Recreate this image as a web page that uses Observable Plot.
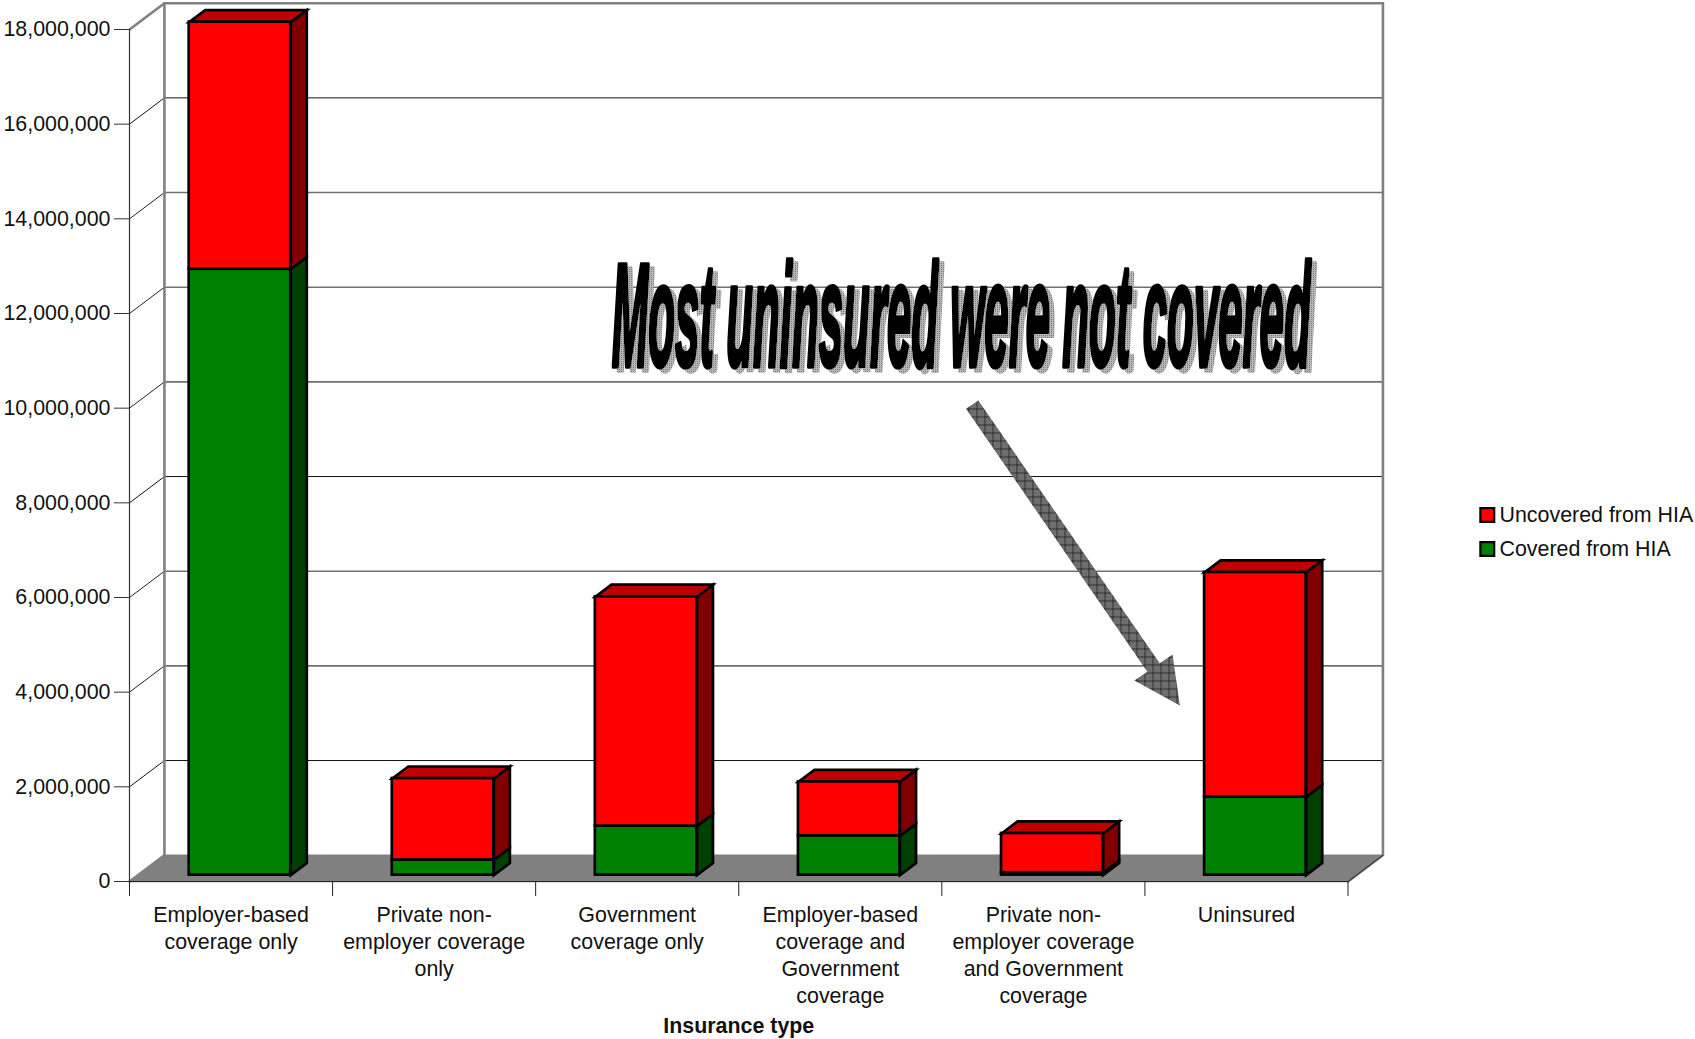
<!DOCTYPE html>
<html>
<head>
<meta charset="utf-8">
<script src="https://cdn.jsdelivr.net/npm/d3@7"></script>
<script src="https://cdn.jsdelivr.net/npm/@observablehq/plot@0.6"></script>
<style>
  html, body { margin: 0; padding: 0; background: #fff; }
  svg { display: block; }
</style>
</head>
<body>
<div id="chart"></div>
<script>
// Insurance type categories, in axis order
const categories = [
  "Employer-based\ncoverage only",
  "Private non-\nemployer coverage\nonly",
  "Government\ncoverage only",
  "Employer-based\ncoverage and\nGovernment\ncoverage",
  "Private non-\nemployer coverage\nand Government\ncoverage",
  "Uninsured"
];
const coveredFromHIA   = [12800000, 320000, 1035000, 830000, 50000, 1650000];
const uncoveredFromHIA = [5220000, 1720000, 4845000, 1140000, 830000, 4745000];
const yTicks = [0, 2e6, 4e6, 6e6, 8e6, 10e6, 12e6, 14e6, 16e6, 18e6];
const seriesNames = ["Uncovered from HIA", "Covered from HIA"];
const seriesColors = ["#ff0000", "#008000"];
const headline = "Most uninsured were not covered";

// The floor and back wall sit behind the front plane by this much, in scale units
const wallX = 0.172, wallY = 0.5556e6;
// Each bar stands part way into the floor
const barStart = 0.294, barWidth = 0.5;
const liftY = 0.135e6, barDepthX = 0.079, barDepthY = 0.255e6;

// Callout arrow outline, in category / value units
const arrowOutline = [
  [4.119, 9.987e6], [4.180, 10.163e6], [5.073, 4.612e6], [5.136, 4.796e6],
  [5.172, 3.719e6], [4.948, 4.247e6], [5.012, 4.430e6]
];

const segments = categories.flatMap((c, i) => {
  const x1 = i + barStart, x2 = x1 + barWidth;
  const total = coveredFromHIA[i] + uncoveredFromHIA[i];
  return [
    {id: i, key: "covered", x1, x2, y1: liftY, y2: liftY + coveredFromHIA[i]},
    {id: i, key: "uncovered", x1, x2, y1: liftY + coveredFromHIA[i], y2: liftY + total}
  ];
});

const sideFace = s => [
  [s.x2, s.y1], [s.x2 + barDepthX, s.y1 + barDepthY],
  [s.x2 + barDepthX, s.y2 + barDepthY], [s.x2, s.y2]
].map(([x, y]) => ({x, y, id: s.id}));

const topFace = s => [
  [s.x1, s.y2], [s.x1 + barDepthX, s.y2 + barDepthY],
  [s.x2 + barDepthX, s.y2 + barDepthY], [s.x2, s.y2]
].map(([x, y]) => ({x, y, id: s.id}));

const byKey = k => segments.filter(s => s.key === k);
const outlineWidth = 2.7;
const polygonStyle = {
  x: "x", y: "y", z: "id", stroke: "#000", strokeWidth: outlineWidth,
  curve: "linear-closed", strokeLinejoin: "miter", strokeMiterlimit: 4
};

const floor = [[0, 0], [6, 0], [6 + wallX, wallY], [wallX, wallY]].map(([x, y]) => ({x, y}));
const thinGrid = [2e6, 8e6, 16e6];
const heavyGrid = [4e6, 6e6, 10e6, 12e6, 14e6];
const wallEdge = "#808080";

// Legend rows: a swatch and its label, pinned by offsets from the frame's corner
const legendRow = (name, i) => [
  Plot.dot([name], {
    frameAnchor: "top-left", dx: 1357.8, dy: 485.5 + i * 34,
    symbol: "square", r: 7.8, fill: seriesColors[i], stroke: "#000", strokeWidth: 2.2
  }),
  Plot.text([name], {
    frameAnchor: "top-left", dx: 1370, dy: 485.5 + i * 34, text: d => d,
    textAnchor: "start", lineAnchor: "middle", fontSize: 21.4, fill: "#111"
  })
];

const chart = Plot.plot({
  width: 1695,
  height: 1039,
  marginLeft: 129,
  marginRight: 347.5,
  marginTop: 29,
  marginBottom: 158,
  x: {domain: [0, 6], range: [129, 1347.5]},
  y: {domain: [0, 18e6], range: [881, 29]},
  style: {fontFamily: "'Liberation Sans', Arial, sans-serif", background: "#fff", color: "#111"},
  marks: [
    // Floor
    Plot.line(floor, {x: "x", y: "y", fill: "#808080", stroke: "#808080", curve: "linear-closed"}),
    // Gridlines on the back wall and their slants up from the axis
    Plot.link(thinGrid, {x1: () => 0, y1: d => d, x2: () => wallX, y2: d => d + wallY, stroke: "#111", strokeWidth: 1}),
    Plot.link(heavyGrid, {x1: () => 0, y1: d => d, x2: () => wallX, y2: d => d + wallY, stroke: "#222", strokeWidth: 1}),
    Plot.ruleY(thinGrid, {y: d => d + wallY, x1: () => wallX, x2: () => 6 + wallX, stroke: "#111", strokeWidth: 1}),
    Plot.ruleY(heavyGrid, {y: d => d + wallY, x1: () => wallX, x2: () => 6 + wallX, stroke: "#707070", strokeWidth: 1.6}),
    // Wall outline
    Plot.line([[0, 0], [wallX, wallY], [wallX, 18e6 + wallY], [6 + wallX, 18e6 + wallY], [6 + wallX, wallY], [6, 0]],
      {x: d => d[0], y: d => d[1], stroke: wallEdge, strokeWidth: 2.6, strokeLinejoin: "miter", strokeMiterlimit: 4}),
    Plot.link([18e6], {x1: () => 0, y1: d => d, x2: () => wallX, y2: d => d + wallY, stroke: wallEdge, strokeWidth: 2.6}),
    Plot.link([0], {x1: () => 6, y1: d => d, x2: () => 6 + wallX, y2: d => d + wallY, stroke: "#222", strokeWidth: 1}),
    // Axes
    Plot.axisY({
      anchor: "left", ticks: yTicks, tickFormat: d3.format(","), tickSize: 15, tickPadding: 4,
      fontSize: 21.4, label: null, stroke: "#333", fill: "#111"
    }),
    Plot.axisX({ticks: d3.range(7), tickSize: 15, fill: "none", label: null, stroke: "#222"}),
    Plot.ruleX([0], {y1: () => 0, y2: () => 18e6, stroke: "#333", strokeWidth: 1.2}),
    Plot.ruleY([0], {x1: () => 0, x2: () => 6, stroke: "#222", strokeWidth: 1.2}),
    // Bars: sides, tops, then front faces
    Plot.line(byKey("covered").flatMap(sideFace), {...polygonStyle, fill: "#004000"}),
    Plot.line(byKey("uncovered").flatMap(sideFace), {...polygonStyle, fill: "#800000"}),
    Plot.line(byKey("uncovered").flatMap(topFace), {...polygonStyle, fill: "#bf0000"}),
    Plot.rect(byKey("covered"), {x1: "x1", x2: "x2", y1: "y1", y2: "y2", fill: "#008000", stroke: "#000", strokeWidth: outlineWidth}),
    Plot.rect(byKey("uncovered"), {x1: "x1", x2: "x2", y1: "y1", y2: "y2", fill: "#ff0000", stroke: "#000", strokeWidth: outlineWidth}),
    // Category labels and axis title
    Plot.text(categories, {
      x: (d, i) => i + 0.5, y: () => 0, text: d => d, dy: 21.4, lineAnchor: "top",
      fontSize: 21.4, lineHeight: 1.26, fill: "#111"
    }),
    Plot.text(["Insurance type"], {
      x: () => 3, y: () => 0, text: d => d, dy: 144.5, fontSize: 21.4, fontWeight: "bold", fill: "#111"
    }),
    // Headline banner; its shadow comes from the filter on the group
    Plot.text([headline], {
      x: () => 2.375, y: () => 10.89e6, text: d => d, textAnchor: "start", lineAnchor: "bottom",
      fontSize: 147, fontWeight: "bold", fontStyle: "italic",
      fill: "#000", stroke: "#000", strokeWidth: 4, className: "wordart"
    }),
    // Callout arrow
    Plot.line(arrowOutline, {x: d => d[0], y: d => d[1], curve: "linear-closed", fill: "url(#arrowDither)", stroke: "none"}),
    // Legend
    ...seriesNames.flatMap(legendRow)
  ]
});

document.getElementById("chart").appendChild(chart);

// Squeeze the headline sideways into its condensed banner width
const bannerWidth = 699;
const banner = chart.querySelector(".wordart text");
const squeeze = bannerWidth / banner.getComputedTextLength();
banner.setAttribute("transform", `${banner.getAttribute("transform") || ""} scale(${squeeze}, 1)`);
banner.setAttribute("vector-effect", "non-scaling-stroke");

// Dither fills for the arrow and the headline shadow
const defs = d3.select(chart).insert("defs", ":first-child");
const hatch = defs.append("pattern").attr("id", "arrowDither")
  .attr("patternUnits", "userSpaceOnUse").attr("width", 8).attr("height", 8);
hatch.append("rect").attr("width", 8).attr("height", 8).attr("fill", "#8c8c8c");
for (const x of d3.range(0, 8)) {
  for (const y of d3.range(0, 8)) {
    if ((x + y) % 2 === 0) hatch.append("rect").attr("x", x).attr("y", y).attr("width", 1).attr("height", 1).attr("fill", "#505050");
  }
}
hatch.append("rect").attr("x", 0).attr("width", 1).attr("height", 8).attr("fill", "#333");
hatch.append("rect").attr("y", 0).attr("width", 8).attr("height", 1).attr("fill", "#333");

const filter = defs.append("filter").attr("id", "bannerShadow")
  .attr("filterUnits", "userSpaceOnUse").attr("primitiveUnits", "userSpaceOnUse")
  .attr("x", 0).attr("y", 0).attr("width", 1695).attr("height", 1039);
const tile = {x: 0, y: 0, width: 3, height: 3};
const flood = (color, size, result) => filter.append("feFlood")
  .attr("flood-color", color).attr("x", 0).attr("y", 0).attr("width", size).attr("height", size).attr("result", result);
flood("#b6b6b6", 3, "tone");
flood("#7c7c7c", 1, "speck");
const cell = filter.append("feMerge").attr("x", tile.x).attr("y", tile.y).attr("width", tile.width).attr("height", tile.height).attr("result", "cell");
cell.append("feMergeNode").attr("in", "tone");
cell.append("feMergeNode").attr("in", "speck");
filter.append("feTile").attr("in", "cell").attr("x", 0).attr("y", 0).attr("width", 1695).attr("height", 1039).attr("result", "dither");
filter.append("feOffset").attr("in", "SourceAlpha").attr("dx", 5).attr("dy", 4).attr("x", 0).attr("y", 0).attr("width", 1695).attr("height", 1039).attr("result", "offset");
filter.append("feComposite").attr("in", "dither").attr("in2", "offset").attr("operator", "in").attr("x", 0).attr("y", 0).attr("width", 1695).attr("height", 1039).attr("result", "shadow");
const merged = filter.append("feMerge").attr("x", 0).attr("y", 0).attr("width", 1695).attr("height", 1039);
merged.append("feMergeNode").attr("in", "shadow");
merged.append("feMergeNode").attr("in", "SourceGraphic");
chart.querySelector(".wordart").setAttribute("filter", "url(#bannerShadow)");
</script>
</body>
</html>
